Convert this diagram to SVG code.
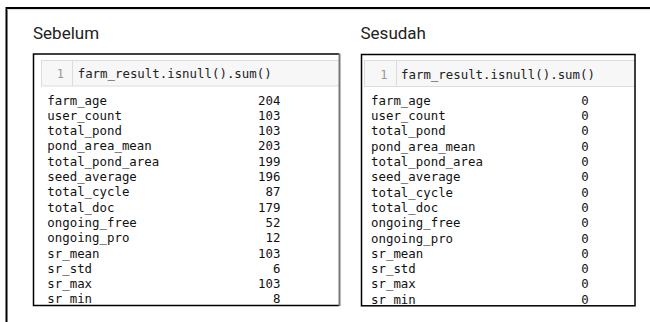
<svg xmlns="http://www.w3.org/2000/svg" width="650" height="322" viewBox="0 0 650 322">
<style>
.title{font-family:Roboto,"Liberation Sans",sans-serif;font-size:17px;fill:#212121}
.mono{font-family:"DejaVu Sans Mono","Liberation Mono",monospace;font-size:12.4px;fill:#111}
.code{font-family:"DejaVu Sans Mono","Liberation Mono",monospace;font-size:12.4px;fill:#222}
.ln{font-family:"DejaVu Sans Mono","Liberation Mono",monospace;font-size:12px;fill:#999;text-anchor:end}
.num{text-anchor:end}
.cell{fill:#f7f7f7;stroke:#dcdcdc;stroke-width:1}
.gut{stroke:#dcdcdc;stroke-width:1}
</style>
<defs>
<clipPath id="clipL"><rect x="33" y="53.5" width="306" height="252.5"/></clipPath>
<clipPath id="clipR"><rect x="361" y="54" width="274" height="252"/></clipPath>
</defs>
<rect x="0" y="0" width="650" height="322" fill="#ffffff"/>
<g id="frame">
<path d="M6.5 322 V8 H650" fill="none" stroke="#000" stroke-width="2"/>
<line x1="7.5" y1="9.6" x2="650" y2="9.6" stroke="#ddd" stroke-width="1"/>
</g>
<g id="sebelum">
<text class="title" x="33" y="38.5">Sebelum</text>
<g clip-path="url(#clipL)">
<rect class="cell" x="41.5" y="60.5" width="310" height="25.5"/>
<line class="gut" x1="72.5" y1="61" x2="72.5" y2="86"/>
<text class="ln" x="64" y="78.3">1</text>
<text class="code" x="77.7" y="78.3">farm_result.isnull().sum()</text>
<g class="mono">
<text x="47.3" y="104.5">farm_age</text>
<text x="47.3" y="119.8">user_count</text>
<text x="47.3" y="135.1">total_pond</text>
<text x="47.3" y="150.4">pond_area_mean</text>
<text x="47.3" y="165.7">total_pond_area</text>
<text x="47.3" y="181">seed_average</text>
<text x="47.3" y="196.3">total_cycle</text>
<text x="47.3" y="211.6">total_doc</text>
<text x="47.3" y="226.9">ongoing_free</text>
<text x="47.3" y="242.2">ongoing_pro</text>
<text x="47.3" y="257.5">sr_mean</text>
<text x="47.3" y="272.8">sr_std</text>
<text x="47.3" y="288.1">sr_max</text>
<text x="47.3" y="303.4">sr_min</text>
</g>
<g class="mono num">
<text x="280.5" y="104.5">204</text>
<text x="280.5" y="119.8">103</text>
<text x="280.5" y="135.1">103</text>
<text x="280.5" y="150.4">203</text>
<text x="280.5" y="165.7">199</text>
<text x="280.5" y="181">196</text>
<text x="280.5" y="196.3">87</text>
<text x="280.5" y="211.6">179</text>
<text x="280.5" y="226.9">52</text>
<text x="280.5" y="242.2">12</text>
<text x="280.5" y="257.5">103</text>
<text x="280.5" y="272.8">6</text>
<text x="280.5" y="288.1">103</text>
<text x="280.5" y="303.4">8</text>
</g>
</g>
<path d="M339 54 H33.5 V305.5 H339" fill="none" stroke="#000" stroke-width="1.5"/>
<line x1="339.5" y1="53.5" x2="339.5" y2="306" stroke="#777" stroke-width="2"/>
</g>
<g id="sesudah">
<text class="title" x="360.5" y="39">Sesudah</text>
<g clip-path="url(#clipR)">
<rect class="cell" x="364.5" y="60.5" width="290" height="26"/>
<line class="gut" x1="396.5" y1="61" x2="396.5" y2="86.5"/>
<text class="ln" x="387.5" y="78.6">1</text>
<text class="code" x="401" y="78.6">farm_result.isnull().sum()</text>
<g class="mono">
<text x="371" y="104.8">farm_age</text>
<text x="371" y="120.1">user_count</text>
<text x="371" y="135.4">total_pond</text>
<text x="371" y="150.7">pond_area_mean</text>
<text x="371" y="166">total_pond_area</text>
<text x="371" y="181.3">seed_average</text>
<text x="371" y="196.6">total_cycle</text>
<text x="371" y="211.9">total_doc</text>
<text x="371" y="227.2">ongoing_free</text>
<text x="371" y="242.5">ongoing_pro</text>
<text x="371" y="257.8">sr_mean</text>
<text x="371" y="273.1">sr_std</text>
<text x="371" y="288.4">sr_max</text>
<text x="371" y="303.7">sr_min</text>
</g>
<g class="mono num">
<text x="588.8" y="104.8">0</text>
<text x="588.8" y="120.1">0</text>
<text x="588.8" y="135.4">0</text>
<text x="588.8" y="150.7">0</text>
<text x="588.8" y="166">0</text>
<text x="588.8" y="181.3">0</text>
<text x="588.8" y="196.6">0</text>
<text x="588.8" y="211.9">0</text>
<text x="588.8" y="227.2">0</text>
<text x="588.8" y="242.5">0</text>
<text x="588.8" y="257.8">0</text>
<text x="588.8" y="273.1">0</text>
<text x="588.8" y="288.4">0</text>
<text x="588.8" y="303.7">0</text>
</g>
</g>
<rect x="361.5" y="54.5" width="273.5" height="251.3" fill="none" stroke="#000" stroke-width="1.5"/>
</g>
</svg>
